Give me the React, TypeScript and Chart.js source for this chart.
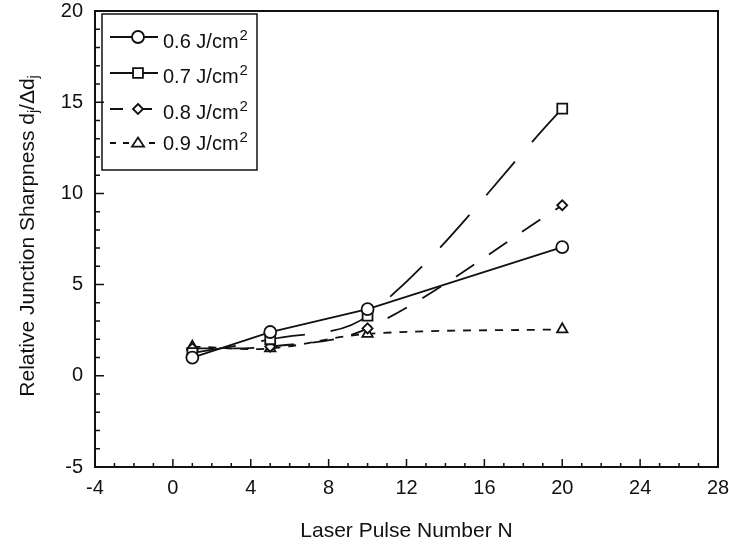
import React, { useEffect, useRef } from "react";
import { Chart, registerables } from "chart.js";

Chart.register(...registerables);

// Laser pulse counts and the measured relative junction sharpness per fluence
const pulseNumbers = [1, 5, 10, 20];
const sharp06 = [1.0, 2.4, 3.65, 7.05];
const sharp07 = [1.25, 2.0, 3.3, 14.65];
const sharp08 = [1.5, 1.6, 2.6, 9.35];
const sharp09 = [1.6, 1.5, 2.3, 2.55];

const fluenceLabels = ["0.6 J/cm", "0.7 J/cm", "0.8 J/cm", "0.9 J/cm"];
const xTitle = "Laser Pulse Number N";

const FONT = "'Liberation Sans', Arial, Helvetica, sans-serif";
const INK = "#111";

type SeriesStyle = {
  dash: number[];
  legendDash: number[];
  pointStyle: string;
  radius: number;
  curved: boolean;
};

const styles: SeriesStyle[] = [
  { dash: [], legendDash: [], pointStyle: "circle", radius: 6, curved: false },
  { dash: [44, 26], legendDash: [], pointStyle: "rect", radius: 7, curved: true },
  { dash: [22, 18], legendDash: [13, 16], pointStyle: "rectRot", radius: 5, curved: true },
  { dash: [8, 8], legendDash: [6, 7], pointStyle: "triangle", radius: 6, curved: true },
];

const seriesValues = [sharp06, sharp07, sharp08, sharp09];

function drawMarker(ctx: CanvasRenderingContext2D, style: string, x: number, y: number, r: number) {
  ctx.save();
  ctx.setLineDash([]);
  ctx.fillStyle = "#fff";
  ctx.strokeStyle = INK;
  ctx.lineWidth = 1.8;
  ctx.beginPath();
  if (style === "circle") {
    ctx.arc(x, y, r, 0, Math.PI * 2);
  } else if (style === "rect") {
    const s = r * Math.SQRT1_2;
    ctx.rect(x - s, y - s, 2 * s, 2 * s);
  } else if (style === "rectRot") {
    ctx.moveTo(x, y - r);
    ctx.lineTo(x + r, y);
    ctx.lineTo(x, y + r);
    ctx.lineTo(x - r, y);
    ctx.closePath();
  } else {
    const h = r * 1.5;
    ctx.moveTo(x, y - h * 0.6);
    ctx.lineTo(x + r, y + h * 0.4);
    ctx.lineTo(x - r, y + h * 0.4);
    ctx.closePath();
  }
  ctx.fill();
  ctx.stroke();
  ctx.restore();
}

const decorations = {
  id: "decorations",
  afterDraw(chart: any) {
    const ctx: CanvasRenderingContext2D = chart.ctx;
    const { left, right, top, bottom } = chart.chartArea;
    const xs = chart.scales.x;
    const ys = chart.scales.y;
    ctx.save();
    ctx.strokeStyle = INK;
    ctx.lineWidth = 2;
    ctx.setLineDash([]);
    ctx.strokeRect(left, top, right - left, bottom - top);

    // inward ticks: majors at labelled values, minors every unit
    ctx.lineWidth = 1.5;
    ctx.beginPath();
    for (let v = xs.min; v <= xs.max; v += 1) {
      const px = xs.getPixelForValue(v);
      const len = v % 4 === 0 ? 8 : 4;
      ctx.moveTo(px, bottom);
      ctx.lineTo(px, bottom - len);
    }
    for (let v = ys.min; v <= ys.max; v += 1) {
      const py = ys.getPixelForValue(v);
      const len = v % 5 === 0 ? 9 : 5;
      ctx.moveTo(left, py);
      ctx.lineTo(left + len, py);
    }
    ctx.stroke();

    // x axis title
    ctx.fillStyle = INK;
    ctx.font = `21px ${FONT}`;
    ctx.textAlign = "center";
    ctx.textBaseline = "alphabetic";
    ctx.fillText(xTitle, (left + right) / 2, 537);

    // y axis title with subscripts
    ctx.save();
    ctx.translate(34, 236);
    ctx.rotate(-Math.PI / 2);
    const main = `21px ${FONT}`;
    const sub = `14px ${FONT}`;
    const parts: [string, string, number][] = [
      ["Relative Junction Sharpness d", main, 0],
      ["j", sub, 4],
      ["/\u0394d", main, 0],
      ["j", sub, 4],
    ];
    let total = 0;
    for (const [t, f] of parts) {
      ctx.font = f;
      total += ctx.measureText(t).width;
    }
    let cx = -total / 2;
    ctx.textAlign = "left";
    for (const [t, f, dy] of parts) {
      ctx.font = f;
      ctx.fillText(t, cx, dy);
      cx += ctx.measureText(t).width;
    }
    ctx.restore();

    // legend box
    ctx.lineWidth = 1.5;
    ctx.strokeRect(102, 14, 155, 156);
    const lineY = [37, 73, 109, 143];
    const baseY = [48, 83, 119, 150];
    styles.forEach((s, i) => {
      const y = lineY[i];
      ctx.save();
      ctx.lineWidth = 1.8;
      ctx.setLineDash(s.legendDash);
      ctx.beginPath();
      ctx.moveTo(110, y);
      ctx.lineTo(158, y);
      ctx.stroke();
      ctx.restore();
      drawMarker(ctx, s.pointStyle, 138, y, s.radius);
      ctx.font = `20px ${FONT}`;
      ctx.textAlign = "left";
      ctx.fillText(fluenceLabels[i], 163, baseY[i]);
      const w = ctx.measureText(fluenceLabels[i]).width;
      ctx.font = `15px ${FONT}`;
      ctx.fillText("2", 163 + w + 1, baseY[i] - 8);
    });
    ctx.restore();
  },
};

export default function App() {
  const canvasRef = useRef<HTMLCanvasElement | null>(null);

  useEffect(() => {
    if (!canvasRef.current) return;
    const datasets = seriesValues.map((vals, i) => {
      const s = styles[i];
      return {
        label: fluenceLabels[i],
        data: pulseNumbers.map((n, k) => ({ x: n, y: vals[k] })),
        showLine: true,
        borderColor: INK,
        borderWidth: 1.8,
        borderDash: s.dash,
        tension: s.curved ? 0.35 : 0,
        pointStyle: s.pointStyle,
        pointRadius: s.radius,
        pointBackgroundColor: "#fff",
        pointBorderColor: INK,
        pointBorderWidth: 1.8,
      };
    });
    const chart = new Chart(canvasRef.current, {
      type: "scatter",
      data: { datasets } as any,
      options: {
        animation: false,
        responsive: true,
        maintainAspectRatio: false,
        layout: { padding: { top: 11, right: 11, left: 0, bottom: 0 } },
        plugins: { legend: { display: false }, tooltip: { enabled: false } },
        scales: {
          x: {
            type: "linear",
            min: -4,
            max: 28,
            afterFit: (scale: any) => {
              scale.height = 78;
              scale.paddingLeft = 0;
              scale.paddingRight = 0;
            },
            ticks: {
              stepSize: 4,
              padding: 9,
              color: INK,
              font: { family: FONT, size: 20 },
              maxRotation: 0,
            },
            grid: { display: false, drawTicks: false },
            border: { display: false },
          },
          y: {
            type: "linear",
            min: -5,
            max: 20,
            afterFit: (scale: any) => {
              scale.width = 95;
              scale.paddingTop = 0;
              scale.paddingBottom = 0;
            },
            ticks: {
              stepSize: 5,
              padding: 12,
              color: INK,
              font: { family: FONT, size: 20 },
            },
            grid: { display: false, drawTicks: false },
            border: { display: false },
          },
        },
      } as any,
      plugins: [decorations],
    });
    return () => chart.destroy();
  }, []);

  return (
    <div style={{ position: "fixed", left: 0, top: 0, width: 729, height: 545, background: "#fff" }}>
      <canvas ref={canvasRef} />
    </div>
  );
}
